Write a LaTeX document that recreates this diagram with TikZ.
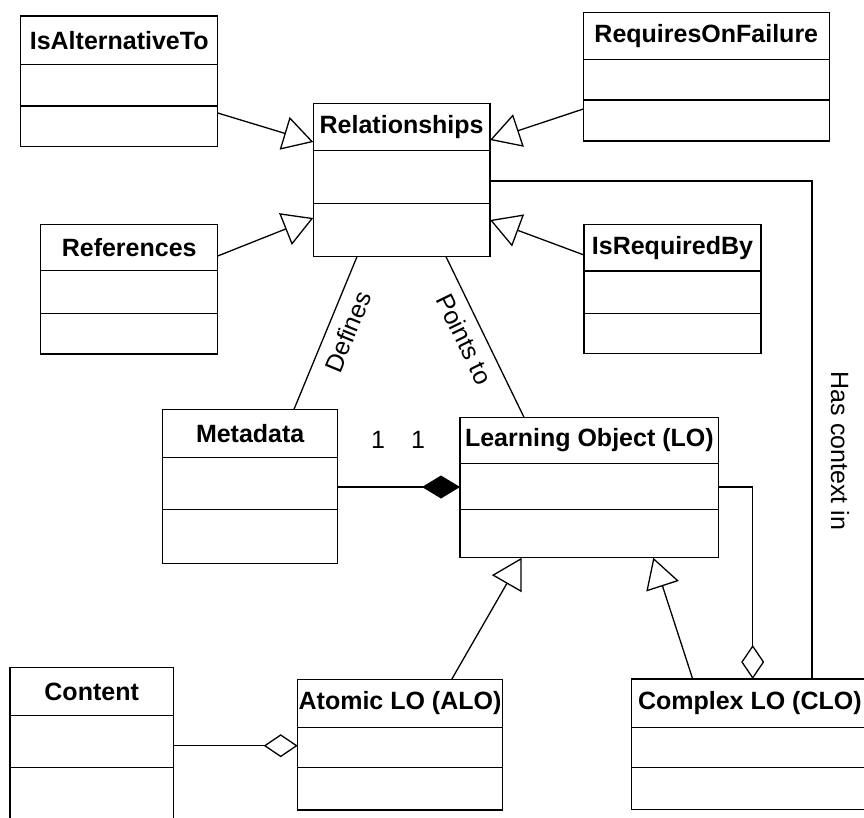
\documentclass[tikz,border=0pt]{standalone}
\usepackage{fontspec}
\setmainfont{Liberation Sans}
\usetikzlibrary{arrows.meta,calc,fit}

% One UML class: name, left, top, right, first rule, second rule, bottom, title
\newcommand{\umlclass}[8]{%
  \node[classbox, fit={(#2,#3) (#4,#7)}] (#1) {};
  \draw[classline] (#1.west |- 0,#5) -- (#1.east |- 0,#5)
                   (#1.west |- 0,#6) -- (#1.east |- 0,#6);
  \node[classtitle] (#1-title) at ($(#2,#3)!0.5!(#4,#5)$) {#8};
}

\tikzset{
  classbox/.style={draw, line width=1.4pt, inner sep=0pt, outer sep=0pt},
  classline/.style={line width=1.4pt},
  classtitle/.style={font=\fontsize{25}{30}\selectfont\bfseries, inner sep=0pt},
  lbl/.style={font=\fontsize{25}{30}\selectfont},
  assoc/.style={line width=1.3pt},
  inherit/.style={line width=1.3pt, -{Triangle[open, length=30pt, width=34pt]}},
  aggregate/.style={line width=1.3pt, -{Diamond[open, length=34pt, width=23pt]}},
  compose/.style={line width=1.3pt, -{Diamond[length=38pt, width=23pt]}},
}

\begin{document}
\begin{tikzpicture}[x=1pt, y=-1pt]
  \useasboundingbox (0,0) rectangle (864,817);
  \clip (0,0) rectangle (864,817);

  % classes
  \umlclass{alt}{20.7}{16}{217.7}{64.3}{106}{146.7}{IsAlternativeTo}
  \umlclass{rof}{583.3}{12.7}{829.3}{59.3}{100}{141}{RequiresOnFailure}
  \umlclass{rel}{313.3}{103.3}{490}{150.7}{203.3}{256.7}{Relationships}
  \umlclass{ref}{40.7}{224.3}{217.7}{270.7}{313.3}{354}{References}
  \umlclass{req}{584}{224.3}{761}{271}{313.3}{353.3}{IsRequiredBy}
  \umlclass{meta}{162.7}{409.3}{337.7}{457.3}{509.3}{563.3}{Metadata}
  \umlclass{lo}{460}{417.3}{718.7}{463.3}{509.3}{557.7}{Learning Object (LO)}
  \umlclass{cont}{10}{667.7}{173.3}{715.7}{767.7}{830}{Content}
  \umlclass{alo}{297.7}{679.3}{502.3}{727.7}{767.7}{810}{Atomic LO (ALO)}
  \umlclass{clo}{631.7}{679}{868}{727.7}{767.7}{809.3}{Complex LO (CLO)}

  % generalisations towards Relationships
  \draw[inherit] (alt.east |- 0,113) -- (rel.west |- 0,142);
  \draw[inherit] (rof.west |- 0,109) -- (rel.east |- 0,140);
  \draw[inherit] (ref.east |- 0,256) -- (rel.west |- 0,218);
  \draw[inherit] (req.west |- 0,255) -- (rel.east |- 0,220);

  % associations
  \draw[assoc] (meta.north -| 294,0) -- node[lbl, pos=.56, sloped, below=7pt] {Defines} (rel.south -| 357,0);
  \draw[assoc] (rel.south -| 446,0) -- node[lbl, pos=.46, sloped, below=6pt] {Points to} (lo.north -| 524,0);
  \draw[assoc] (rel.east |- 0,181) -| node[lbl, pos=.771, xshift=28pt, rotate=-90] {Has context in} (clo.north -| 812,0);

  % composition Metadata - LO
  \draw[compose] (meta.east |- 0,487) -- (lo.west |- 0,487);
  \node[lbl] (m1) at (378,440) {1};
  \node[lbl] (m2) at (418,440) {1};

  % aggregations
  \draw[aggregate] (lo.east |- 0,487) -| (clo.north -| 752.7,0);
  \draw[aggregate] (cont.east |- 0,745.7) -- (alo.west |- 0,745.7);

  % specialisations of LO
  \draw[inherit] (alo.north -| 451.7,0) -- (lo.south -| 521.7,0);
  \draw[inherit] (clo.north -| 692.7,0) -- (lo.south -| 653.3,0);
\end{tikzpicture}
\end{document}
